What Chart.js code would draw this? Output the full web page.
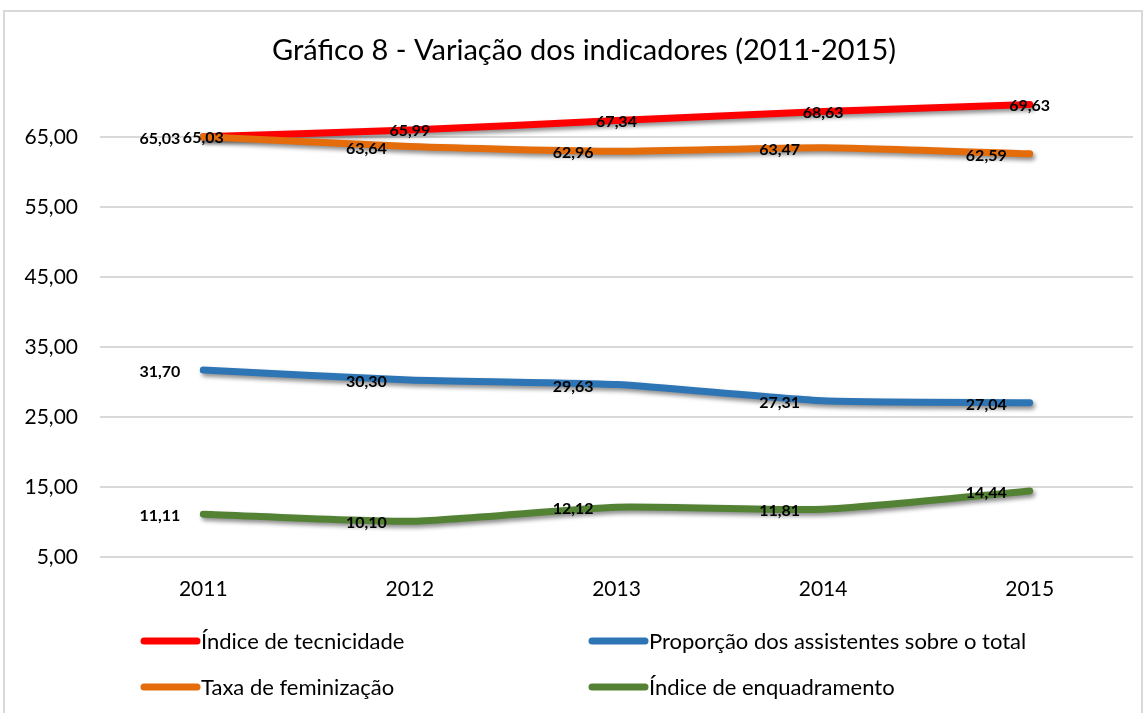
<!DOCTYPE html>
<html>
<head>
<meta charset="utf-8">
<script src="https://cdn.jsdelivr.net/npm/chart.js@4"></script>
<style>
html,body{margin:0;padding:0;background:#fff;}
#wrap{position:relative;width:1148px;height:713px;overflow:hidden;}
#frame{position:absolute;left:3px;top:10px;width:1140px;height:720px;border:2px solid #d9d9d9;box-sizing:border-box;}
canvas{position:absolute;left:0;top:0;}
</style>
</head>
<body>
<div id="wrap"><div id="frame"></div><canvas id="c" width="1148" height="713"></canvas></div>
<script>
const title = 'Gráfico 8 - Variação dos indicadores (2011-2015)';
const categories = ['2011', '2012', '2013', '2014', '2015'];
const tecnicidade = [65.03, 65.99, 67.34, 68.63, 69.63];
const proporcao = [31.70, 30.30, 29.63, 27.31, 27.04];
const feminizacao = [65.03, 63.64, 62.96, 63.47, 62.59];
const enquadramento = [11.11, 10.10, 12.12, 11.81, 14.44];
const seriesNames = ['Índice de tecnicidade', 'Proporção dos assistentes sobre o total', 'Taxa de feminização', 'Índice de enquadramento'];
const yMin = 5, yMax = 75, yStep = 10;

const colors = ['#FF0000', '#2E75B6', '#E46C0A', '#548235'];
const labelPos = ['center', 'left', 'left', 'left'];
const FONT = 'Lato, "Open Sans", sans-serif';
const fmt = v => v.toFixed(2).replace('.', ',');

const decor = {
  id: 'decor',
  beforeDatasetsDraw(chart) {
    const ctx = chart.ctx;
    ctx.save();
    ctx.shadowColor = 'rgba(0,0,0,0.45)';
    ctx.shadowBlur = 4;
    ctx.shadowOffsetX = 2;
    ctx.shadowOffsetY = 3;
  },
  afterDatasetsDraw(chart) {
    const ctx = chart.ctx;
    ctx.restore();
    ctx.save();
    ctx.font = 'bold 16px ' + FONT;
    ctx.fillStyle = '#000';
    ctx.textBaseline = 'middle';
    chart.data.datasets.forEach((ds, i) => {
      const meta = chart.getDatasetMeta(i);
      meta.data.forEach((pt, j) => {
        const txt = fmt(ds.data[j]);
        if (labelPos[i] === 'center') {
          ctx.textAlign = 'center';
          ctx.fillText(txt, pt.x, pt.y + 1);
        } else {
          ctx.textAlign = 'right';
          ctx.fillText(txt, pt.x - 23, pt.y + 2);
        }
      });
    });
    ctx.restore();
  },
  afterDraw(chart) {
    const ctx = chart.ctx;
    ctx.save();
    ctx.font = '29px ' + FONT;
    ctx.fillStyle = '#000';
    ctx.textAlign = 'center';
    ctx.textBaseline = 'middle';
    ctx.fillText(title, 584, 51);
    const items = [
      {x: 144, y: 641}, {x: 592, y: 641},
      {x: 144, y: 687}, {x: 592, y: 687}
    ];
    ctx.font = '22px ' + FONT;
    ctx.textAlign = 'left';
    items.forEach((it, i) => {
      ctx.strokeStyle = colors[i];
      ctx.lineWidth = 7;
      ctx.lineCap = 'round';
      ctx.beginPath();
      ctx.moveTo(it.x, it.y);
      ctx.lineTo(it.x + 53, it.y);
      ctx.stroke();
      ctx.fillStyle = '#000';
      ctx.fillText(chart.data.datasets[i].label, it.x + 57, it.y + 1);
    });
    ctx.restore();
  }
};

const seriesData = [tecnicidade, proporcao, feminizacao, enquadramento];
const datasets = seriesData.map((d, i) => ({
  label: seriesNames[i],
  data: d,
  borderColor: colors[i],
  backgroundColor: colors[i],
  borderWidth: 7,
  borderCapStyle: 'round',
  borderJoinStyle: 'round',
  pointRadius: 0,
  pointHoverRadius: 0,
  tension: 0.2,
  fill: false,
  clip: false,
  order: 4 - i
}));

new Chart(document.getElementById('c'), {
  type: 'line',
  data: { labels: categories, datasets },
  options: {
    responsive: false,
    animation: false,
    events: [],
    layout: { padding: { left: 0, right: 15, top: 67, bottom: 96 } },
    plugins: { legend: { display: false }, title: { display: false }, tooltip: { enabled: false } },
    scales: {
      x: {
        offset: true,
        grid: { display: false, drawTicks: false },
        border: { display: false },
        ticks: { color: '#000', font: { family: FONT, size: 21 }, padding: 20, maxRotation: 0 },
        afterFit(axis) { axis.height = 60; }
      },
      y: {
        min: yMin, max: yMax,
        ticks: { stepSize: yStep, color: '#000', font: { family: FONT, size: 21 }, padding: 22,
                 callback: v => fmt(v) },
        afterBuildTicks(axis) { axis.ticks = axis.ticks.filter(t => t.value !== yMax); },
        grid: { color: '#d9d9d9', lineWidth: 2, drawTicks: false },
        border: { display: false },
        afterFit(axis) { axis.width = 100; }
      }
    }
  },
  plugins: [decor]
});
</script>
</body>
</html>
